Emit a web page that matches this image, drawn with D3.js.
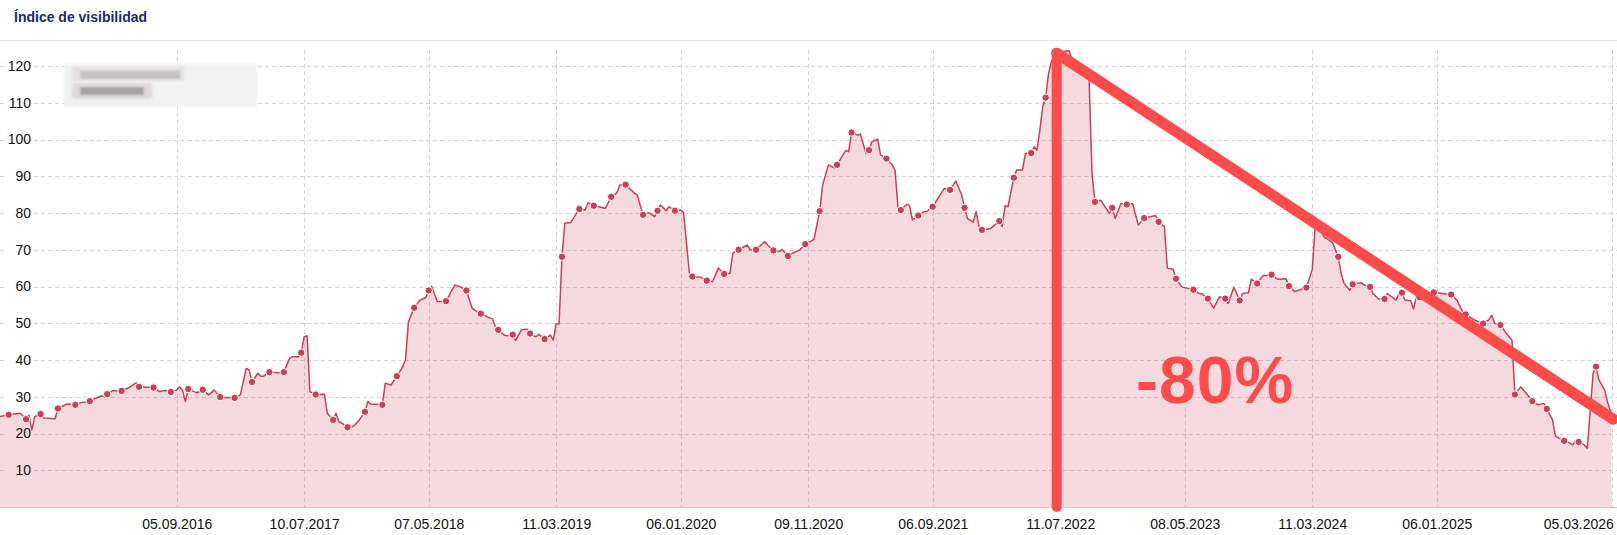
<!DOCTYPE html>
<html>
<head>
<meta charset="utf-8">
<script src="https://cdn.jsdelivr.net/npm/d3@7"></script>
<style>
  body { margin: 0; background: #fff; }
  svg { display: block; font-family: "Liberation Sans", Arial, sans-serif; }
</style>
</head>
<body>
<div id="chart"></div>
<script>
// Visibility index, weekly. Week offsets are counted from START.
const START = '2015-07-06'
const SERIES = [
  [0,24.6],[3,25.1],[7,25.5],[9,23.9],[10,25.0],[11,21],[12,24.6],[14,25.3],[15,24.2],[19,24.0],
  [20,26.8],[23,28.0],[26,27.8],[28,28.4],[31,28.8],[33,29.6],[35,30.2],[36,30.0],[37,30.7],[39,31.7],
  [42,31.6],[44,32.3],[47,33.8],[48,32.7],[51,32.6],[53,32.5],[55,31.4],[57,31.7],[59,31.3],[61,31.8],
  [62,32.7],[63,31.8],[64,28.7],[65,32.1],[67,31.4],[68,31.1],[70,31.9],[72,30.5],[74,31.8],[76,29.9],
  [78,29.8],[81,29.7],[83,30.5],[85,37.7],[86,37.3],[87,34.0],[89,36.4],[90,35.6],[91,35.6],[93,36.7],
  [96,36.5],[98,36.7],[100,40.5],[101,40.9],[103,40.9],[104,42.0],[105,46.3],[106,46.6],[107,31.4],[109,30.6],
  [112,30.7],[113,25.5],[114,24.6],[115,23.7],[116,25.5],[117,23.2],[118,22.8],[120,21.7],[122,22.0],[124,23.7],
  [126,25.9],[127,28.7],[128,28.0],[132,27.8],[133,33.7],[135,33.2],[137,35.6],[138,36.8],[139,38.2],[140,40],
  [141,50.4],[143,54.2],[145,56.3],[147,57.0],[148,58.9],[149,60.0],[151,55.9],[154,56.0],[157,60.4],[159,59.9],
  [161,58.9],[163,54.1],[165,53.0],[166,52.6],[168,51.8],[170,51.2],[171,49.1],[172,48.2],[174,46.8],[175,46.6],
  [177,46.9],[178,45.3],[180,48.2],[182,48.4],[183,47.2],[185,46.3],[186,47.0],[188,45.7],[190,46.8],[191,45.4],
  [192,49.8],[193,49.8],[194,68.1],[195,77.2],[197,77.4],[199,79.9],[200,81.1],[202,80.8],[203,82.8],[205,82.0],
  [209,81.3],[211,84.4],[213,85.5],[214,87.6],[216,87.7],[219,85.4],[220,84.9],[222,79.5],[224,80.1],[226,79.0],
  [227,80.6],[228,82.2],[230,80.6],[231,81.7],[233,80.6],[235,80.8],[236,80.1],[238,63.6],[239,62.7],[242,62.5],
  [244,61.6],[246,61.3],[248,65.0],[250,63.4],[252,63.6],[253,69.0],[255,70.0],[258,71.3],[259,69.9],[261,70.0],
  [264,72.2],[265,71.3],[267,69.8],[269,69.5],[270,70.1],[272,68.3],[274,69.2],[276,69.9],[278,71.5],[281,72.8],
  [283,80.5],[284,87.6],[286,93.1],[288,92.3],[289,93.1],[291,95.8],[292,97.0],[293,96.7],[294,101.9],[296,101.2],
  [297,101.5],[299,96.2],[300,97.1],[301,99.4],[303,100.1],[304,95.8],[306,94.8],[308,93.1],[309,91.7],[310,81.7],
  [311,80.8],[313,82.4],[314,82.0],[315,78.1],[317,79.3],[319,80.4],[320,80.4],[322,81.7],[326,86.7],[327,86.4],
  [328,86.3],[330,88.7],[332,84.9],[333,81.4],[334,78.5],[336,77.5],[337,80.4],[338,76.3],[339,75.4],[342,75.8],
  [345,77.8],[346,76.3],[347,82.0],[348,81.7],[350,89.6],[351,91.7],[353,91.7],[354,96.2],[356,96.3],[357,98.0],
  [358,97.1],[359,102.6],[360,108.9],[361,111.4],[362,118.0],[363,121.2],[365,123.5],[367,123.9],[369,124.2],[370,122.1],
  [373,120],[376,116.2],[377,90.8],[378,83.0],[380,83.5],[383,79.9],[384,81.4],[385,78.5],[387,82.6],[389,82.3],
  [391,82.6],[393,76.7],[395,78.6],[397,79.0],[399,79.3],[400,77.6],[402,76.3],[403,65.0],[405,64.7],[406,62.1],
  [408,59.9],[412,59.1],[414,58.1],[415,58.0],[417,56.7],[419,54.1],[421,57.2],[423,56.7],[424,55.4],[426,59.8],
  [428,56.2],[429,58.1],[431,58.3],[432,62.0],[434,60.8],[436,62.9],[439,63.2],[441,62.0],[444,62.1],[445,60.1],
  [447,58.6],[449,59.2],[451,59.7],[453,64.5],[454,75.8],[456,75.4],[457,73.6],[460,72],[462,68.1],[463,63.6],
  [464,60.9],[466,59.0],[467,60.6],[470,61.0],[471,60.4],[473,59.9],[474,58.1],[476,56.6],[478,56.6],[479,58.1],
  [482,56.3],[483,58.1],[484,58.3],[485,56.3],[487,56.1],[488,53.9],[489,57.2],[490,57.1],[491,56.8],[495,58.4],
  [498,58.1],[501,57.8],[503,56.3],[505,53.1],[506,52.4],[509,50.9],[512,49.9],[514,50.9],[515,52.2],[516,50.0],
  [518,49.5],[520,47.3],[522,45.4],[523,30.6],[525,32.7],[527,30.9],[529,28.8],[531,27.8],[533,28.2],[534,26.7],
  [536,23.7],[537,19.3],[540,18.0],[541,17.8],[543,16.9],[544,18.2],[545,17.7],[547,16.9],[548,16.0],[550,36.4],
  [551,38.2],[552,34.6],[554,31.8],[555,28.5],[556.4,25.0]
]
// weeks that carry a dot marker
const MARKERS = [3,9,14,20,26,31,37,42,48,53,59,65,70,76,81,87,93,98,104,109,115,120,126,132,137,143,148,154,
  161,166,172,177,183,188,194,200,205,211,216,222,227,233,239,244,250,255,261,267,272,278,283,289,294,300,306,
  311,317,322,328,333,339,345,350,356,361,378,384,389,395,400,406,412,417,423,428,434,439,445,451,462,467,473,
  478,484,490,495,501,506,512,518,523,529,534,540,545,551]

const Y_TICKS = [10, 20, 30, 40, 50, 60, 70, 80, 90, 100, 110, 120]
const X_TICKS = ['05.09.2016', '10.07.2017', '07.05.2018', '11.03.2019', '06.01.2020', '09.11.2020',
  '06.09.2021', '11.07.2022', '08.05.2023', '11.03.2024', '06.01.2025', '05.03.2026']

// drawn annotation: peak -> latest (week, value)
const DROP_FROM = [364.8, 123.5]
const DROP_TO = [556.9, 23.9]
const DROP_LABEL = '-80%'
const DROP_LABEL_AT = [419.5, 28.3]

const TITLE = 'Índice de visibilidad'
const LINE_COLOR = '#c8405a'
const RED = '#ff4b4b'

const width = 1617
const height = 535

const parseTick = d3.utcParse('%d.%m.%Y')
const start = d3.utcParse('%Y-%m-%d')(START)
const weekDate = w => new Date(start.getTime() + w * 7 * 864e5)

const x = d3.scaleUtc()
  .domain([parseTick('05.09.2016'), parseTick('06.01.2025')])
  .range([176.7, 1436.7])
const y = d3.scaleLinear().domain([0, 120]).range([507, 66])

const svg = d3.select('#chart').append('svg')
  .attr('width', width).attr('height', height)

// header
svg.append('text')
  .attr('x', 14).attr('y', 22)
  .attr('fill', '#1b2a6b').attr('font-size', '14px').attr('font-weight', 'bold')
  .text(TITLE)
svg.append('line')
  .attr('x1', 0).attr('x2', width).attr('y1', 40.5).attr('y2', 40.5)
  .attr('stroke', '#e8e8e8')

// grid
const grid = svg.append('g').attr('stroke', '#d6d6d6').attr('stroke-dasharray', '4,3')
grid.selectAll('line.h1').data(Y_TICKS).join('line')
  .attr('x1', 0).attr('x2', 6)
  .attr('y1', d => Math.round(y(d)) + 0.5).attr('y2', d => Math.round(y(d)) + 0.5)
grid.selectAll('line.h2').data(Y_TICKS).join('line')
  .attr('x1', 34).attr('x2', width)
  .attr('y1', d => Math.round(y(d)) + 0.5).attr('y2', d => Math.round(y(d)) + 0.5)
grid.selectAll('line.v').data(X_TICKS).join('line')
  .attr('x1', d => Math.round(x(parseTick(d))) + 0.5).attr('x2', d => Math.round(x(parseTick(d))) + 0.5)
  .attr('y1', 50).attr('y2', y(0))

// series
const pts = SERIES.map(([w, v]) => ({ date: weekDate(w), w, v }))

svg.append('path')
  .datum(pts)
  .attr('fill', LINE_COLOR).attr('fill-opacity', 0.2)
  .attr('d', d3.area().x(d => x(d.date)).y0(y(0)).y1(d => y(d.v)))

svg.append('line')
  .attr('x1', 0).attr('x2', width).attr('y1', y(0) + 0.5).attr('y2', y(0) + 0.5)
  .attr('stroke', '#e2c2c9')

svg.append('path')
  .datum(pts)
  .attr('fill', 'none').attr('stroke', LINE_COLOR).attr('stroke-width', 1.5)
  .attr('stroke-linejoin', 'round')
  .attr('d', d3.line().x(d => x(d.date)).y(d => y(d.v)))

const markerSet = new Set(MARKERS)
svg.append('g').selectAll('circle')
  .data(pts.filter(d => markerSet.has(d.w)))
  .join('circle')
  .attr('cx', d => x(d.date)).attr('cy', d => y(d.v))
  .attr('r', 3.7)
  .attr('fill', LINE_COLOR).attr('stroke', '#fff').attr('stroke-width', 1)

// censored legend box
const defs = svg.append('defs')
defs.append('filter').attr('id', 'blur')
  .append('feGaussianBlur').attr('stdDeviation', 1.2)
const legend = svg.append('g').attr('filter', 'url(#blur)')
legend.append('rect').attr('x', 64).attr('y', 64).attr('width', 193).attr('height', 42).attr('fill', '#f1f1f1')
legend.append('rect').attr('x', 72).attr('y', 67).attr('width', 112).attr('height', 14).attr('fill', '#e4e0e0')
legend.append('rect').attr('x', 80).attr('y', 71).attr('width', 100).attr('height', 8).attr('fill', '#c4c2c3')
legend.append('rect').attr('x', 72).attr('y', 83).attr('width', 80).attr('height', 16).attr('fill', '#dedada')
legend.append('rect').attr('x', 80).attr('y', 87).attr('width', 64).attr('height', 8).attr('fill', '#a9a3a4')

// y axis labels
svg.append('g').selectAll('text').data(Y_TICKS).join('text')
  .attr('x', 31).attr('y', d => y(d)).attr('dy', '0.35em')
  .attr('text-anchor', 'end').attr('font-size', '14px').attr('fill', '#111')
  .text(d => d)

// x axis
svg.append('g')
  .attr('transform', `translate(0,${y(0)})`)
  .call(d3.axisBottom(x).tickValues(X_TICKS.map(parseTick)).tickFormat(d3.utcFormat('%d.%m.%Y')).tickSize(0).tickPadding(12))
  .call(g => {
    g.select('.domain').remove()
    g.selectAll('.tick text')
      .attr('fill', '#111').attr('font-size', '14px')
      .attr('font-family', '"Liberation Sans", Arial, sans-serif')
      .attr('dy', '0.71em')
    // keep the last label inside the frame
    g.selectAll('.tick text').each(function () {
      const b = this.getBBox()
      const tx = +this.parentNode.getAttribute('transform').match(/translate\(([-\d.]+)/)[1]
      const right = tx + b.x + b.width
      if (right > width - 3) d3.select(this).attr('x', (width - 3) - right)
    })
  })

// drop annotation
const fx = weekDate(DROP_FROM[0]), tx = weekDate(DROP_TO[0])
svg.append('line')
  .attr('x1', x(fx)).attr('x2', x(fx))
  .attr('y1', y(DROP_FROM[1])).attr('y2', y(0))
  .attr('stroke', RED).attr('stroke-width', 10).attr('stroke-linecap', 'round')
svg.append('line')
  .attr('x1', x(fx)).attr('y1', y(DROP_FROM[1]))
  .attr('x2', x(tx)).attr('y2', y(DROP_TO[1]))
  .attr('stroke', RED).attr('stroke-width', 11).attr('stroke-linecap', 'round')
svg.append('text')
  .attr('x', x(weekDate(DROP_LABEL_AT[0]))).attr('y', y(DROP_LABEL_AT[1]))
  .attr('text-anchor', 'middle')
  .attr('fill', RED).attr('font-size', '66px').attr('font-weight', 'bold')
  .attr('font-family', '"Liberation Sans", Arial, sans-serif')
  .attr('letter-spacing', '1')
  .text(DROP_LABEL)
</script>
</body>
</html>
